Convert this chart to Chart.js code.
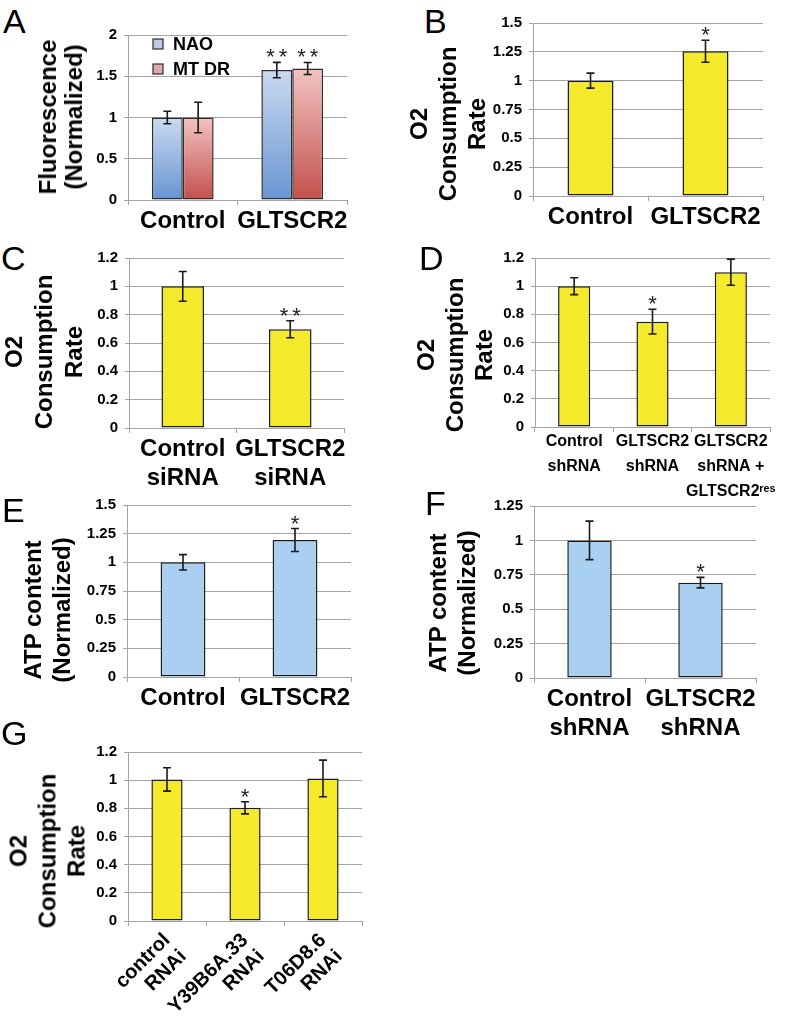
<!DOCTYPE html>
<html><head><meta charset="utf-8">
<script src="https://cdn.jsdelivr.net/npm/chart.js@4.4.1/dist/chart.umd.min.js"></script>
<style>
html,body{margin:0;padding:0;background:#fff;}
#wrap{position:relative;width:799px;height:1030px;overflow:hidden;background:#fff;font-family:"Liberation Sans",Arial,Helvetica,sans-serif;}
canvas{position:absolute;}
.letter{position:absolute;font-size:34px;line-height:34px;font-weight:normal;color:#000;}
.yt{position:absolute;font-size:24px;font-weight:bold;color:#000;white-space:nowrap;text-align:center;transform:translate(-50%,-50%) rotate(-90deg);}
</style></head><body><div id="wrap"></div>
<script>
// ---------------- DATA ----------------
const panelA_categories = ['Control', 'GLTSCR2'];
const panelA_series = ['NAO', 'MT DR'];
const panelA_NAO = [1.00, 1.575];
const panelA_NAO_err = [0.076, 0.093];
const panelA_MTDR = [1.00, 1.594];
const panelA_MTDR_err = [0.185, 0.073];
const panelA_NAO_sig = ['', '**'];
const panelA_MTDR_sig = ['', '**'];
const panelA_yTicks = ['0', '0.5', '1', '1.5', '2'];
const panelA_yTitle = ['Fluorescence', '(Normalized)'];

const panelB_categories = ['Control', 'GLTSCR2'];
const panelB_values = [1.00, 1.255];
const panelB_errors = [0.065, 0.095];
const panelB_sig = ['', '*'];
const panelB_yTicks = ['0', '0.25', '0.5', '0.75', '1', '1.25', '1.5'];

const panelC_categories = [['Control', 'siRNA'], ['GLTSCR2', 'siRNA']];
const panelC_values = [1.00, 0.697];
const panelC_errors = [0.105, 0.06];
const panelC_sig = ['', '**'];
const panelC_yTicks = ['0', '0.2', '0.4', '0.6', '0.8', '1', '1.2'];

const panelD_categories = [['Control', 'shRNA'], ['GLTSCR2', 'shRNA'], ['GLTSCR2', 'shRNA +', 'GLTSCR2ʳᵉˢ']];
const panelD_values = [1.00, 0.748, 1.099];
const panelD_errors = [0.06, 0.088, 0.093];
const panelD_sig = ['', '*', ''];
const panelD_yTicks = ['0', '0.2', '0.4', '0.6', '0.8', '1', '1.2'];

const panelE_categories = ['Control', 'GLTSCR2'];
const panelE_values = [1.00, 1.195];
const panelE_errors = [0.067, 0.10];
const panelE_sig = ['', '*'];
const panelE_yTicks = ['0', '0.25', '0.5', '0.75', '1', '1.25', '1.5'];

const panelF_categories = [['Control', 'shRNA'], ['GLTSCR2', 'shRNA']];
const panelF_values = [1.00, 0.693];
const panelF_errors = [0.14, 0.038];
const panelF_sig = ['', '*'];
const panelF_yTicks = ['0', '0.25', '0.5', '0.75', '1', '1.25'];

const panelG_categories = [['control', 'RNAi'], ['Y39B6A.33', 'RNAi'], ['T06D8.6', 'RNAi']];
const panelG_values = [1.005, 0.804, 1.012];
const panelG_errors = [0.083, 0.043, 0.13];
const panelG_sig = ['', '*', ''];
const panelG_yTicks = ['0', '0.2', '0.4', '0.6', '0.8', '1', '1.2'];

const O2_title = ['O2', 'Consumption', 'Rate'];
const ATP_title = ['ATP content', '(Normalized)'];

// ---------------- STYLE / LAYOUT ----------------
const FONT = '"Liberation Sans", Arial, Helvetica, sans-serif';
Chart.defaults.font.family = FONT;
Chart.defaults.color = '#000';
const GRID = '#a3a3a3';
const YELLOW = '#f5e92c';
const BLUE = '#a9d0f1';
const wrap = document.getElementById('wrap');

const errorBarsPlugin = {
  id: 'errorBars',
  afterDatasetsDraw(chart) {
    const ctx = chart.ctx;
    const ys = chart.scales.y;
    chart.data.datasets.forEach((ds, di) => {
      const meta = chart.getDatasetMeta(di);
      meta.data.forEach((bar, i) => {
        const v = ds.data[i], e = ds.errors[i];
        const yt = ys.getPixelForValue(v + e), yb = ys.getPixelForValue(v - e);
        const cap = 4;
        ctx.save();
        ctx.strokeStyle = '#1a1a1a';
        ctx.lineWidth = 1.6;
        ctx.beginPath();
        ctx.moveTo(bar.x, yt); ctx.lineTo(bar.x, yb);
        ctx.moveTo(bar.x - cap, yt); ctx.lineTo(bar.x + cap, yt);
        ctx.moveTo(bar.x - cap, yb); ctx.lineTo(bar.x + cap, yb);
        ctx.stroke();
        if (ds.sig && ds.sig[i]) {
          ctx.fillStyle = '#222';
          ctx.font = '22px ' + FONT;
          ctx.textAlign = 'center';
          ctx.textBaseline = 'alphabetic';
          if (ds.sig[i].length > 1) ctx.letterSpacing = '4px';
          ctx.fillText(ds.sig[i], bar.x + (ds.sig[i].length > 1 ? 2 : 0), yt + 2);
        }
        ctx.restore();
      });
    });
  }
};

const insideLegendPlugin = {
  id: 'insideLegend',
  afterDraw(chart, args, opts) {
    if (!opts || !opts.show) return;
    const ctx = chart.ctx, ca = chart.chartArea;
    chart.data.datasets.forEach((ds, i) => {
      const bx = ca.left + opts.dx, by = ca.top + opts.dy + i * opts.gap;
      ctx.save();
      ctx.fillStyle = ds.legendFill;
      ctx.strokeStyle = ds.borderColor;
      ctx.lineWidth = 1.2;
      ctx.fillRect(bx, by, 10, 10);
      ctx.strokeRect(bx, by, 10, 10);
      ctx.fillStyle = '#000';
      ctx.font = 'bold 18px ' + FONT;
      ctx.textBaseline = 'middle';
      ctx.textAlign = 'left';
      ctx.fillText(ds.label, bx + 20, by + 6);
      ctx.restore();
    });
  }
};

function gradientFill(topC, botC) {
  return (c) => {
    const chart = c.chart;
    if (!chart.chartArea || c.type !== 'data') return topC;
    const top = chart.scales.y.getPixelForValue(c.raw);
    const g = chart.ctx.createLinearGradient(0, top, 0, chart.chartArea.bottom);
    g.addColorStop(0, topC);
    g.addColorStop(1, botC);
    return g;
  };
}

function addLetter(t, left, baseline) {
  const d = document.createElement('div');
  d.className = 'letter';
  d.textContent = t;
  d.style.left = left + 'px';
  d.style.top = (baseline - 29) + 'px';
  wrap.appendChild(d);
}

function addYTitle(lines, cx, cy, lh) {
  const d = document.createElement('div');
  d.className = 'yt';
  d.style.lineHeight = lh + 'px';
  d.style.left = cx + 'px';
  d.style.top = cy + 'px';
  lines.forEach((l, i) => {
    if (i) d.appendChild(document.createElement('br'));
    d.appendChild(document.createTextNode(l));
  });
  wrap.appendChild(d);
}

function makePanel(p) {
  const cv = document.createElement('canvas');
  cv.width = p.rect.w; cv.height = p.rect.h;
  cv.style.left = p.rect.x + 'px'; cv.style.top = p.rect.y + 'px';
  cv.style.width = p.rect.w + 'px'; cv.style.height = p.rect.h + 'px';
  wrap.appendChild(cv);
  const ticks = p.yTicks;
  const yMax = parseFloat(ticks[ticks.length - 1]);
  const step = parseFloat(ticks[1]);
  const rot = p.rotation || 0;
  new Chart(cv.getContext('2d'), {
    type: 'bar',
    data: { labels: p.categories, datasets: p.datasets },
    plugins: [errorBarsPlugin, insideLegendPlugin],
    options: {
      responsive: false, animation: false, devicePixelRatio: 1,
      layout: { padding: { top: p.plot.t - p.rect.y, right: p.rect.x + p.rect.w - p.plot.r, bottom: 0, left: 0 } },
      plugins: { legend: { display: false }, tooltip: { enabled: false }, insideLegend: p.legend || { show: false } },
      datasets: { bar: { categoryPercentage: p.catPct, barPercentage: p.barPct || 1 } },
      scales: {
        x: {
          type: 'category', offset: true,
          grid: { display: true, drawOnChartArea: false, drawTicks: true, tickLength: 5, offset: true, color: GRID, lineWidth: 1 },
          border: { display: true, color: GRID, width: 1 },
          ticks: { font: { size: p.xFont, weight: 'bold', lineHeight: p.xLH }, color: '#000', autoSkip: false,
                   maxRotation: rot, minRotation: rot, padding: p.xPad, labelOffset: p.labelOffset || 0 },
          afterFit(s) { s.height = p.rect.y + p.rect.h - p.plot.b; s.paddingLeft = 0; s.paddingRight = 0; s.paddingTop = 0; s.paddingBottom = 0; }
        },
        y: {
          min: 0, max: yMax,
          ticks: { stepSize: step, font: { size: 15, weight: 'bold' }, color: '#000', padding: 7,
                   callback: (v) => { const t = ticks.find(s => Math.abs(parseFloat(s) - v) < 1e-6); return t === undefined ? '' : t; } },
          grid: { color: GRID, lineWidth: 1, tickLength: 4, drawTicks: true },
          border: { display: true, color: GRID, width: 1 },
          afterFit(s) { s.width = p.plot.l - p.rect.x; s.paddingTop = 0; s.paddingBottom = 0; s.paddingLeft = 0; s.paddingRight = 0; }
        }
      }
    }
  });
}

function single(values, errors, sig, color) {
  return [{ data: values, errors: errors, sig: sig, backgroundColor: color, borderColor: '#1a1a1a', borderWidth: 1.5, borderSkipped: false }];
}

// ---------------- PANELS ----------------
// A
makePanel({
  rect: { x: 76, y: 5, w: 284, h: 245 }, plot: { l: 128, t: 35, r: 347, b: 200 },
  categories: panelA_categories, yTicks: panelA_yTicks, catPct: 0.564, xFont: 24, xLH: 1.2, xPad: 2,
  legend: { show: true, dx: 25, dy: 4, gap: 25 },
  datasets: [
    { label: panelA_series[0], data: panelA_NAO, errors: panelA_NAO_err, sig: panelA_NAO_sig,
      backgroundColor: gradientFill('#cadaf0', '#6894d2'), legendFill: '#b9cde9', borderColor: '#2b2b2b', borderWidth: 1.5, borderSkipped: false },
    { label: panelA_series[1], data: panelA_MTDR, errors: panelA_MTDR_err, sig: panelA_MTDR_sig,
      backgroundColor: gradientFill('#f2c3c2', '#c2504c'), legendFill: '#e7a9a7', borderColor: '#2b2b2b', borderWidth: 1.5, borderSkipped: false }
  ]
});
addLetter('A', 3, 33);
addYTitle(panelA_yTitle, 61, 117, 26);

// B
makePanel({
  rect: { x: 483, y: 0, w: 295, h: 245 }, plot: { l: 533, t: 23, r: 763, b: 196 },
  categories: panelB_categories, yTicks: panelB_yTicks, catPct: 0.4, xFont: 24, xLH: 1.2, xPad: 2,
  datasets: single(panelB_values, panelB_errors, panelB_sig, YELLOW)
});
addLetter('B', 424, 33);
addYTitle(O2_title, 447, 124, 29);

// C
makePanel({
  rect: { x: 78, y: 235, w: 285, h: 260 }, plot: { l: 129, t: 258, r: 344, b: 428 },
  categories: panelC_categories, yTicks: panelC_yTicks, catPct: 0.396, xFont: 24, xLH: 1.2, xPad: 2,
  datasets: single(panelC_values, panelC_errors, panelC_sig, YELLOW)
});
addLetter('C', 1, 270);
addYTitle(O2_title, 44, 352, 30);

// D
makePanel({
  rect: { x: 485, y: 235, w: 314, h: 270 }, plot: { l: 535, t: 258, r: 770, b: 427 },
  categories: panelD_categories, yTicks: panelD_yTicks, catPct: 0.41, xFont: 16, xLH: 1.56, xPad: -3,
  datasets: single(panelD_values, panelD_errors, panelD_sig, YELLOW)
});
addLetter('D', 419, 270);
addYTitle(O2_title, 454, 355, 29);

// E
makePanel({
  rect: { x: 75, y: 485, w: 290, h: 230 }, plot: { l: 127, t: 505, r: 351, b: 677 },
  categories: panelE_categories, yTicks: panelE_yTicks, catPct: 0.4, xFont: 24, xLH: 1.2, xPad: 2,
  datasets: single(panelE_values, panelE_errors, panelE_sig, BLUE)
});
addLetter('E', 2, 522);
addYTitle(ATP_title, 47, 610, 29);

// F
makePanel({
  rect: { x: 483, y: 485, w: 295, h: 265 }, plot: { l: 534, t: 506, r: 756, b: 678 },
  categories: panelF_categories, yTicks: panelF_yTicks, catPct: 0.4, xFont: 24, xLH: 1.2, xPad: 2,
  datasets: single(panelF_values, panelF_errors, panelF_sig, BLUE)
});
addLetter('F', 425, 515);
addYTitle(ATP_title, 452, 603, 29);

// G
makePanel({
  rect: { x: 75, y: 730, w: 300, h: 300 }, plot: { l: 128, t: 752, r: 362, b: 921 },
  categories: panelG_categories, yTicks: panelG_yTicks, catPct: 0.4, xFont: 20, xLH: 1.15, xPad: 3,
  rotation: 45, labelOffset: 0,
  datasets: single(panelG_values, panelG_errors, panelG_sig, YELLOW)
});
addLetter('G', 1, 745);
addYTitle(O2_title, 47, 851, 29);
</script></body></html>
